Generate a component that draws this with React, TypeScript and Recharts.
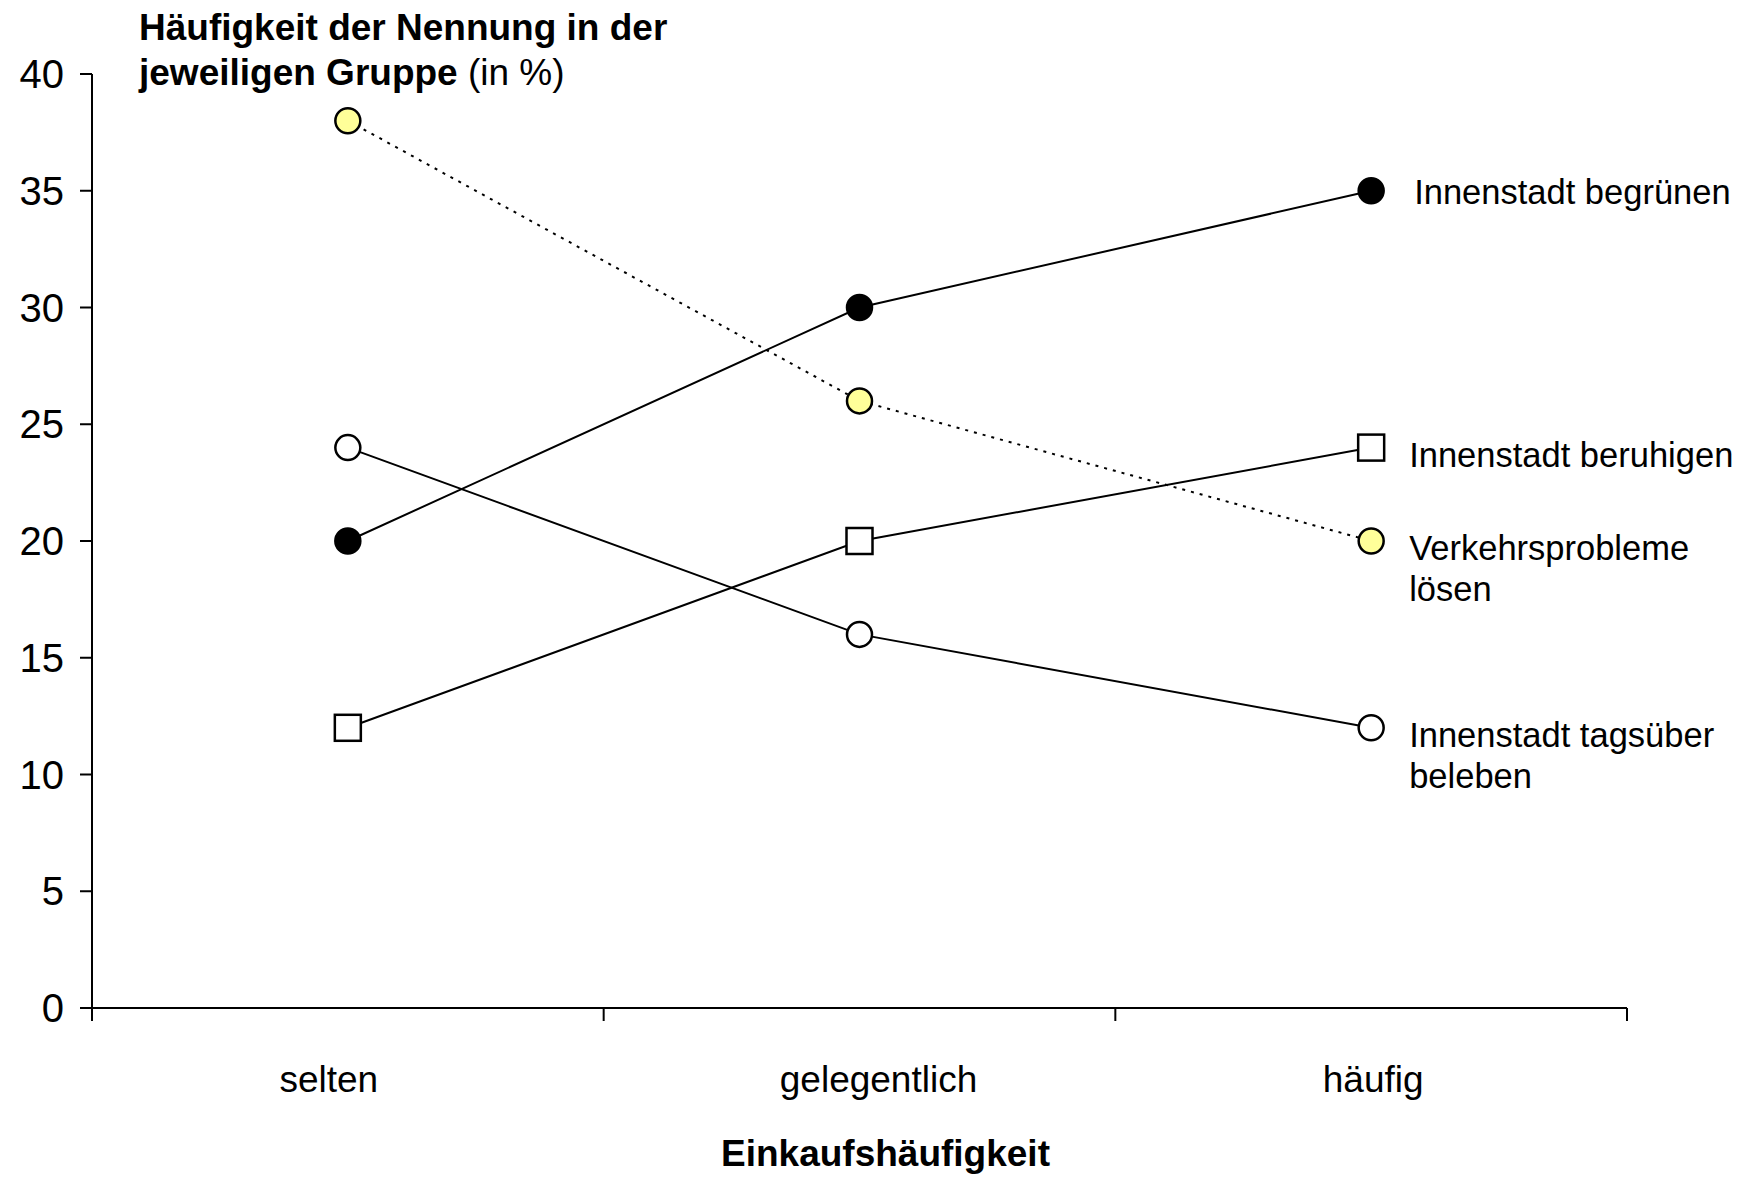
import { LineChart, Line, XAxis, YAxis, LabelList } from 'recharts';

const FONT = '"Liberation Sans", Arial, sans-serif';

// categories on the x axis
const categories = ['selten', 'gelegentlich', 'häufig'];

// y axis ticks (percent)
const yTicks = [0, 5, 10, 15, 20, 25, 30, 35, 40];

// series values (in %), one per category
const begruenen = [20, 30, 35];
const verkehr = [38, 26, 20];
const beleben = [24, 16, 12];
const beruhigen = [12, 20, 24];

// labels drawn next to the last point of each line
const labelBegruenen = ['Innenstadt begrünen'];
const labelBeruhigen = ['Innenstadt beruhigen'];
const labelVerkehr = ['Verkehrsprobleme', 'lösen'];
const labelBeleben = ['Innenstadt tagsüber', 'beleben'];

// category bands sit between integer positions, points at the band centre
const xTicks = [0, 0.5, 1, 1.5, 2, 2.5, 3];

const data = categories.map((c, i) => ({
  pos: i + 0.5,
  name: c,
  begruenen: begruenen[i],
  verkehr: verkehr[i],
  beleben: beleben[i],
  beruhigen: beruhigen[i],
}));

// the original labels are not quite centred on their bands
const labelShift = [-19, 19, 2];

const XTick = ({ x, y, payload }: any) => {
  const v = payload.value;
  if (Number.isInteger(v)) {
    return <line x1={x} x2={x} y1={y} y2={y + 13} stroke="#000" strokeWidth={2} />;
  }
  const i = Math.floor(v);
  return (
    <text x={x + labelShift[i]} y={y + 84} textAnchor="middle" fill="#000" fontSize={37} fontFamily={FONT}>
      {categories[i]}
    </text>
  );
};

const circleDot = (fill: string) => (props: any) => {
  const { cx, cy, index } = props;
  if (cx == null || cy == null) return null;
  return <circle key={index} cx={cx} cy={cy} r={12.5} fill={fill} stroke="#000" strokeWidth={2.5} />;
};

const squareDot = (props: any) => {
  const { cx, cy, index } = props;
  if (cx == null || cy == null) return null;
  return <rect key={index} x={cx - 13} y={cy - 13} width={26} height={26} fill="#fff" stroke="#000" strokeWidth={2.5} />;
};

const endLabel = (lines: string[], dx: number, dy: number) => (props: any) => {
  const { x, y, index } = props;
  if (index !== categories.length - 1) return null;
  return (
    <text x={x + dx} y={y + dy} fill="#000" fontSize={34.5} fontFamily={FONT}>
      {lines.map((l, i) => (
        <tspan key={i} x={x + dx} dy={i === 0 ? 0 : 41}>
          {l}
        </tspan>
      ))}
    </text>
  );
};

const XTitle = ({ viewBox }: any) => (
  <text
    x={viewBox.x + viewBox.width / 2 + 26}
    y={viewBox.y + viewBox.height - 11}
    textAnchor="middle"
    fill="#000"
    fontSize={37}
    fontWeight="bold"
    fontFamily={FONT}
  >
    Einkaufshäufigkeit
  </text>
);

export default function App() {
  return (
    <div style={{ position: 'absolute', left: 0, top: 0, width: 1742, height: 1177, background: '#fff' }}>
      <div
        style={{
          position: 'absolute',
          left: 139,
          top: 5,
          fontFamily: FONT,
          fontSize: 37,
          lineHeight: '45px',
          color: '#000',
          whiteSpace: 'nowrap',
        }}
      >
        <b>Häufigkeit der Nennung in der</b>
        <br />
        <b>jeweiligen Gruppe</b> (in %)
      </div>
      <LineChart width={1742} height={1177} data={data} margin={{ top: 74, right: 115, left: 0, bottom: 0 }}>
        <XAxis
          type="number"
          dataKey="pos"
          domain={[0, 3]}
          ticks={xTicks}
          interval={0}
          tickSize={0}
          tickMargin={0}
          tickLine={false}
          tick={<XTick />}
          height={169}
          axisLine={{ stroke: '#000', strokeWidth: 2 }}
          label={<XTitle />}
        />
        <YAxis
          domain={[0, 40]}
          ticks={yTicks}
          interval={0}
          width={92}
          tickSize={12}
          tickMargin={16}
          tick={{ fill: '#000', fontSize: 40, fontFamily: FONT }}
          axisLine={{ stroke: '#000', strokeWidth: 2 }}
          tickLine={{ stroke: '#000', strokeWidth: 2 }}
        />
        <Line
          dataKey="verkehr"
          stroke="#000"
          strokeWidth={2}
          strokeDasharray="3 6"
          isAnimationActive={false}
          dot={circleDot('#FFFF99')}
        >
          <LabelList dataKey="verkehr" content={endLabel(labelVerkehr, 38, 19)} />
        </Line>
        <Line dataKey="beleben" stroke="#000" strokeWidth={2} isAnimationActive={false} dot={circleDot('#fff')}>
          <LabelList dataKey="beleben" content={endLabel(labelBeleben, 38, 19)} />
        </Line>
        <Line dataKey="beruhigen" stroke="#000" strokeWidth={2} isAnimationActive={false} dot={squareDot}>
          <LabelList dataKey="beruhigen" content={endLabel(labelBeruhigen, 38, 19)} />
        </Line>
        <Line dataKey="begruenen" stroke="#000" strokeWidth={2} isAnimationActive={false} dot={circleDot('#000')}>
          <LabelList dataKey="begruenen" content={endLabel(labelBegruenen, 43, 13)} />
        </Line>
      </LineChart>
    </div>
  );
}
